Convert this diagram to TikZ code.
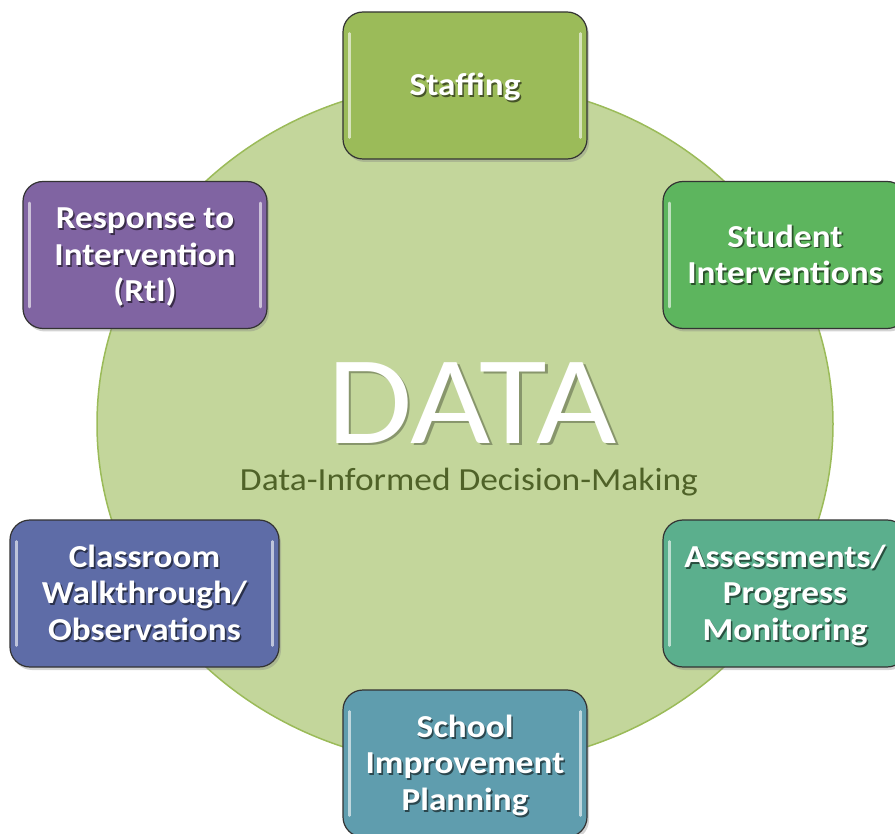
\documentclass[tikz,border=0pt]{standalone}
\usepackage{fontspec}
\setmainfont{Carlito}[FakeStretch=1.1]
\usetikzlibrary{shadows,shapes.geometric}
\definecolor{circfill}{HTML}{C3D69B}
\definecolor{circline}{HTML}{9BBB59}
\definecolor{cstaff}{HTML}{9BBB59}
\definecolor{cstud}{HTML}{5DB55E}
\definecolor{cassess}{HTML}{5BAF8D}
\definecolor{cschool}{HTML}{5F9DAE}
\definecolor{cclass}{HTML}{5E6CA7}
\definecolor{crti}{HTML}{8064A2}
\definecolor{subtxt}{HTML}{4F6228}
\newcommand\shadowed[2]{\leavevmode\rlap{\raisebox{-1.8pt}{\hspace{1.6pt}\color{#1}\begin{tabular}{@{}c@{}}#2\end{tabular}}}\begin{tabular}{@{}c@{}}#2\end{tabular}}
\tikzset{
  boxstyle/.style={rectangle, rounded corners=20pt, draw=black!80, line width=1.2pt,
    minimum height=147pt, inner sep=0pt,
    drop shadow={opacity=0.35, shadow xshift=2pt, shadow yshift=-3pt}},
  boxtext/.style={text=white, font=\bfseries\fontsize{32}{36.5}\selectfont, inner sep=0pt},
  gloss/.style={white, opacity=0.6, line width=2.4pt, line cap=round},
}
\newcommand\databox[6]{%
  \node[boxstyle, fill=#4, minimum width=#5pt] (#1) at (#2,#3) {};
  \draw[gloss] ([xshift=7pt,yshift=-22pt]#1.north west) -- ([xshift=7pt,yshift=22pt]#1.south west);
  \draw[gloss] ([xshift=-7pt,yshift=-22pt]#1.north east) -- ([xshift=-7pt,yshift=22pt]#1.south east);
  \node[boxtext] (#1-txt) at ([yshift=-4pt]#1.center) {\shadowed{black!55!#4}{#6}};
}
\begin{document}
\begin{tikzpicture}[x=1pt,y=-1pt]
\useasboundingbox (0,0) rectangle (895,834);
\node[ellipse, fill=circfill, draw=circline, line width=1.5pt, minimum width=736pt, minimum height=684pt, inner sep=0pt] (circle) at (465,424) {};
\node[anchor=base, text=white, inner sep=0pt, font=\fontsize{126}{126}\selectfont] (dataword) at (472,443) {\leavevmode\rlap{\raisebox{-2.5pt}{\hspace{2.5pt}\color{black!30!circfill}DATA}}DATA};
\node[anchor=base, text=subtxt, inner sep=0pt, font=\fontsize{32.2}{36}\selectfont] (subtitle) at (469,490) {Data-Informed Decision-Making};
\databox{staff}{465}{85.5}{cstaff}{244}{Staffing}
\databox{stud}{785}{255}{cstud}{244}{Student\\Interventions}
\databox{assess}{785}{593.5}{cassess}{244}{Assessments/\\Progress\\Monitoring}
\databox{school}{465}{763.5}{cschool}{244}{School\\Improvement\\Planning}
\databox{class}{144.5}{593.5}{cclass}{269}{Classroom\\Walkthrough/\\Observations}
\databox{rti}{145}{255}{crti}{244}{Response to\\Intervention\\(RtI)}
\end{tikzpicture}
\end{document}
